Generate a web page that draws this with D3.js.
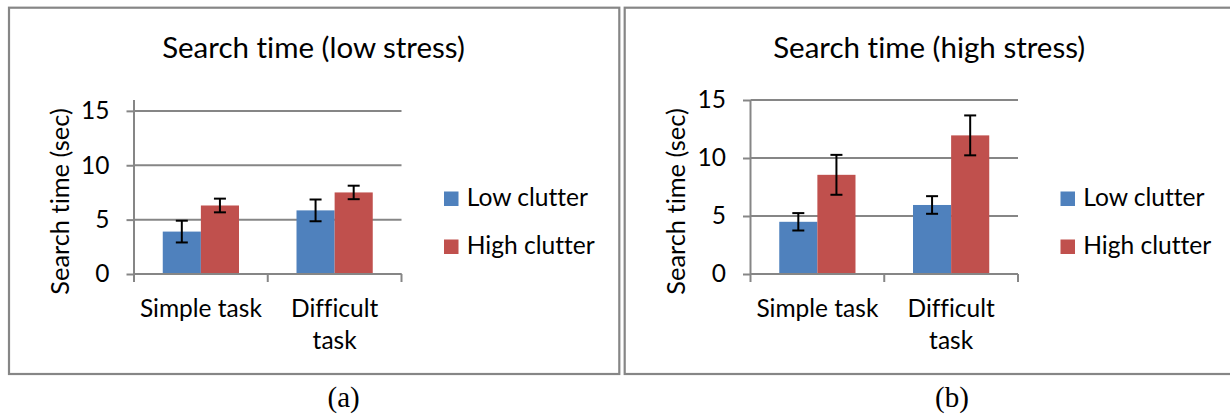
<!DOCTYPE html>
<html><head><meta charset="utf-8">
<script src="https://cdn.jsdelivr.net/npm/d3@7"></script>
<style>body{margin:0;background:#fff}svg{display:block}text{font-variant-ligatures:none;font-feature-settings:"liga" 0,"clig" 0}</style>
</head><body><svg id="c" width="1230" height="414"></svg>
<script>
// ---- data ----
const categories = ["Simple task", "Difficult task"];
const categoryLines = [["Simple task"], ["Difficult", "task"]];
const seriesNames = ["Low clutter", "High clutter"];
const seriesColors = ["#4F81BD", "#C0504D"];
const yTicks = [0, 5, 10, 15];
const axisTitle = "Search time (sec)";

const lowStressTitle = "Search time (low stress)";
const lowStressYMax = 16;
const lowStressLowClutter = [3.9, 5.85];
const lowStressHighClutter = [6.3, 7.5];
const lowStressLowClutterErr = [1.0, 1.0];
const lowStressHighClutterErr = [0.63, 0.62];

const highStressTitle = "Search time (high stress)";
const highStressYMax = 15;
const highStressLowClutter = [4.5, 5.95];
const highStressHighClutter = [8.55, 11.95];
const highStressLowClutterErr = [0.75, 0.76];
const highStressHighClutterErr = [1.72, 1.72];

const captions = ["(a)", "(b)"];

// ---- drawing ----
const svg = d3.select("#c");
const FONT = "Lato, 'Open Sans', sans-serif";
const GREY = "#868686";

function panel(opt) {
  const g = svg.append("g");
  // frame
  g.append("rect").attr("x", opt.fx).attr("y", 7.7).attr("width", opt.fw).attr("height", 366.3)
    .attr("fill", "none").attr("stroke", GREY).attr("stroke-width", 2.2);

  const ax = opt.axisX, pw = 267.5, top = 100, bottom = 274;
  const y = d3.scaleLinear().domain([0, opt.ymax]).range([bottom, top]);
  const x0 = d3.scaleBand().domain(categories).range([ax, ax + pw]).padding(0);
  const bw = x0.bandwidth();
  const x1 = d3.scaleBand().domain(seriesNames).range([bw * 0.215, bw * 0.785]).padding(0);

  // title
  g.append("text").attr("x", opt.fx + 304.5).attr("y", 57.5).attr("text-anchor", "middle")
    .attr("font-family", FONT).attr("font-size", 29.5).attr("fill", "#000").text(opt.title);

  // gridlines
  g.append("g").selectAll("line").data(yTicks).join("line")
    .attr("x1", ax).attr("x2", ax + pw).attr("y1", d => y(d)).attr("y2", d => y(d))
    .attr("stroke", GREY).attr("stroke-width", 2);

  // y axis
  const ya = g.append("g").attr("transform", `translate(${ax},0)`)
    .call(d3.axisLeft(y).tickValues(yTicks).tickSizeInner(7.5).tickSizeOuter(0).tickPadding(17));
  ya.select(".domain").attr("stroke", GREY).attr("stroke-width", 2).attr("d", `M0,${top}V${bottom + 8}`);
  ya.selectAll(".tick line").attr("stroke", GREY).attr("stroke-width", 2);
  ya.selectAll(".tick text").attr("font-family", FONT).attr("font-size", 24.5).attr("fill", "#000");

  // x axis ticks at category boundaries
  const edges = categories.map(c => x0(c)).concat([ax + pw]);
  g.append("g").selectAll("line").data(edges.slice(1)).join("line")
    .attr("x1", d => d).attr("x2", d => d).attr("y1", bottom).attr("y2", bottom + 8)
    .attr("stroke", GREY).attr("stroke-width", 2);

  // category labels
  const cl = g.append("g").selectAll("text").data(categories).join("text")
    .attr("text-anchor", "middle").attr("font-family", FONT).attr("font-size", 24.5).attr("fill", "#000");
  cl.each(function(c, i) {
    const t = d3.select(this);
    categoryLines[i].forEach((ln, k) => {
      t.append("tspan").attr("x", x0(c) + bw / 2).attr("y", 317 + k * 32).text(ln);
    });
  });

  // bars
  const seriesVals = [opt.low, opt.high];
  const seriesErr = [opt.lowErr, opt.highErr];
  seriesNames.forEach((s, si) => {
    const gg = g.append("g");
    gg.selectAll("rect").data(categories).join("rect")
      .attr("x", c => x0(c) + x1(s)).attr("width", x1.bandwidth())
      .attr("y", (c, i) => y(seriesVals[si][i]))
      .attr("height", (c, i) => bottom - y(seriesVals[si][i]))
      .attr("fill", seriesColors[si]);
  });
  // redraw zero line over bars
  g.append("line").attr("x1", ax).attr("x2", ax + pw).attr("y1", bottom).attr("y2", bottom)
    .attr("stroke", GREY).attr("stroke-width", 2);

  // error bars
  seriesNames.forEach((s, si) => {
    categories.forEach((c, i) => {
      const cx = x0(c) + x1(s) + x1.bandwidth() / 2;
      const v = seriesVals[si][i], e = seriesErr[si][i];
      const eb = g.append("g").attr("stroke", "#000").attr("stroke-width", 2);
      eb.append("line").attr("x1", cx).attr("x2", cx).attr("y1", y(v + e)).attr("y2", y(v - e));
      eb.append("line").attr("x1", cx - 6).attr("x2", cx + 6).attr("y1", y(v + e)).attr("y2", y(v + e));
      eb.append("line").attr("x1", cx - 6).attr("x2", cx + 6).attr("y1", y(v - e)).attr("y2", y(v - e));
    });
  });

  // axis title
  g.append("text").attr("transform", `translate(${ax - 65.5},201.5) rotate(-90)`)
    .attr("text-anchor", "middle").attr("font-family", FONT).attr("font-size", 25.4).attr("fill", "#000")
    .text(axisTitle);

  // legend
  const lg = g.append("g").attr("transform", `translate(${ax + 310},0)`);
  seriesNames.forEach((s, si) => {
    const yy = 206 + si * 48;
    lg.append("rect").attr("x", 0).attr("y", yy - 14.5).attr("width", 14.5).attr("height", 14.5)
      .attr("fill", seriesColors[si]);
    lg.append("text").attr("x", 22.7).attr("y", yy).attr("font-family", FONT).attr("font-size", 24.6)
      .attr("fill", "#000").text(s);
  });

  // caption
  svg.append("text").attr("x", opt.capX).attr("y", 406.6).attr("text-anchor", "middle")
    .attr("font-family", "'Liberation Serif', 'Times New Roman', serif").attr("font-size", 29)
    .attr("fill", "#000").text(opt.caption);
}

panel({fx: 9, fw: 610.3, axisX: 134, ymax: lowStressYMax, title: lowStressTitle,
  low: lowStressLowClutter, high: lowStressHighClutter,
  lowErr: lowStressLowClutterErr, highErr: lowStressHighClutterErr, caption: captions[0], capX: 343.7});
panel({fx: 624.7, fw: 620, axisX: 750.5, ymax: highStressYMax, title: highStressTitle,
  low: highStressLowClutter, high: highStressHighClutter,
  lowErr: highStressLowClutterErr, highErr: highStressHighClutterErr, caption: captions[1], capX: 952});
</script>
</body></html>
